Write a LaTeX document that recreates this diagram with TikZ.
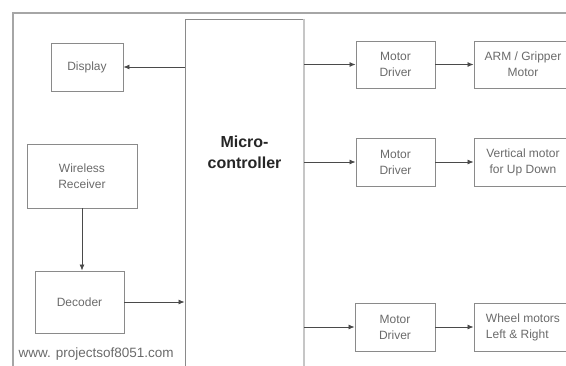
\documentclass[tikz,border=0pt]{standalone}
\usepackage{fontspec}
\setmainfont{Liberation Sans}
\usepackage{xcolor}
\usetikzlibrary{arrows.meta, positioning}

\definecolor{boxgray}{HTML}{8A8A8A}
\definecolor{txtgray}{HTML}{6A6A6A}
\definecolor{arrgray}{HTML}{4A4A4A}

\begin{document}
\begin{tikzpicture}[
  x=1pt, y=-1pt,
  blk/.style={draw=boxgray, line width=0.9pt, inner sep=0pt, align=center,
              text=txtgray, font=\fontsize{12}{16}\selectfont},
  arr/.style={-{Latex[length=6pt, width=5pt]}, arrgray, line width=0.8pt},
  lab/.style={font=\fontsize{13.5}{15}\selectfont, text=txtgray},
]
\useasboundingbox (0,0) rectangle (566,365);
\clip (0,0) rectangle (566,365);

% ---- Frame -----------------------------------------------------------------
\draw[gray!70, line width=1.2pt] (13,380) -- (13,13) -- (580,13);

% ---- Microcontroller -------------------------------------------------------
\node[draw=boxgray, line width=0.9pt, minimum width=119pt, minimum height=362pt]
  (mcu) at (244.5,200) {};
\draw[gray!45, line width=2pt] (mcu.north east) -- (mcu.south east);
\node[font=\fontsize{16}{21}\selectfont\bfseries, text=black!85, align=center]
  (mcutxt) at (244.5,152) {Micro-\\controller};

% ---- Left side -------------------------------------------------------------
\node[blk, minimum width=72pt, minimum height=48pt] (disp) at (87,67) {Display};
\node[blk, minimum width=110pt, minimum height=64pt] (rcv) at (82,176)
  {Wireless\\Receiver};
\node[blk, minimum width=89pt, minimum height=62pt] (dec) at (79.5,302) {Decoder};
\node[lab, anchor=west] (web) at (15,354) {www. projectsof8051.com};

\draw[arr] (mcu.west |- disp) -- (disp);
\draw[arr] (rcv.south) -- (rcv.south |- dec.north);
\draw[arr] (dec) -- (mcu.west |- dec);

% ---- Motor drivers ---------------------------------------------------------
\node[blk, minimum width=79pt, minimum height=47pt] (drv1) at (395.5,64.5) {Motor\\Driver};
\node[blk, minimum width=79pt, minimum height=48pt] (drv2) at (395.5,162) {Motor\\Driver};
\node[blk, minimum width=80pt, minimum height=48pt] (drv3) at (395,327) {Motor\\Driver};

% ---- Motors ----------------------------------------------------------------
\node[blk, minimum width=98pt, minimum height=47pt] (mot1) at (523,64.5)
  {ARM / Gripper\\Motor};
\node[blk, minimum width=98pt, minimum height=48pt] (mot2) at (523,162)
  {Vertical motor\\for Up Down};
\node[blk, minimum width=98pt, minimum height=48pt, align=left] (mot3) at (523,327)
  {Wheel motors\\Left \& Right};

\foreach \i in {1,2,3} {
  \draw[arr] (mcu.east |- drv\i) -- (drv\i);
  \draw[arr] (drv\i) -- (mot\i);
}

\end{tikzpicture}
\end{document}
